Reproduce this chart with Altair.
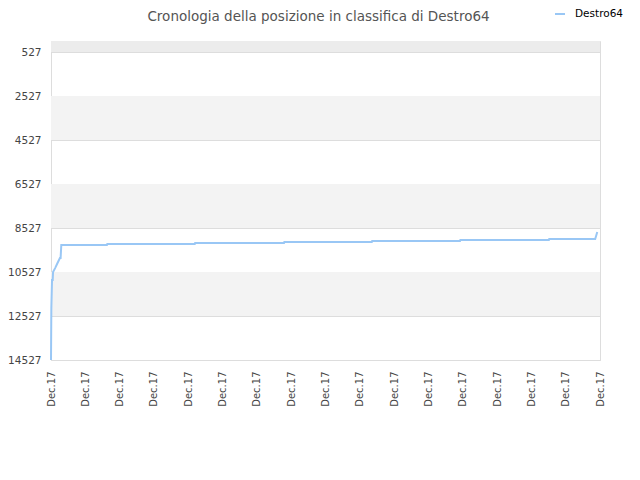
import altair as alt
import pandas as pd

# Data (x in "day" units, 16 label intervals)
line_x = [0, 0.01, 0.03, 0.05, 0.06, 0.12, 0.18, 0.26, 0.28, 0.30, 1.63, 1.64, 4.19, 4.20,
          6.79, 6.80, 9.35, 9.36, 11.92, 11.93, 14.51, 14.52, 15.86, 15.92]
line_y = [14527, 12163, 10891, 10891, 10527, 10350, 10150, 9890, 9890, 9300, 9300, 9255, 9255, 9209,
          9209, 9164, 9164, 9118, 9118, 9073, 9073, 9027, 9027, 8709]
series_name = "Destro64"

y_ticks = [527, 2527, 4527, 6527, 8527, 10527, 12527, 14527]
x_ticks = list(range(17))
x_label = "Dec.17"

band_start = [27, 2527, 6527, 10527]
band_end = [527, 4527, 8527, 12527]
band_kind = ["top", "alt", "alt", "alt"]

df_line = pd.DataFrame({"x": line_x, "y": line_y, "s": [series_name] * len(line_x)})
df_band = pd.DataFrame({"y": band_start, "y2": band_end, "k": band_kind})

yscale = alt.Scale(domain=[27, 14527], reverse=True, nice=False, zero=False)
xscale = alt.Scale(domain=[0, 16], nice=False, zero=False)

bands = alt.Chart(df_band).mark_rect().encode(
    x=alt.value(0),
    x2=alt.value(549),
    y=alt.Y("y:Q", scale=yscale),
    y2="y2:Q",
    fill=alt.Fill("k:N", scale=alt.Scale(domain=["top", "alt"], range=["#ececec", "#f3f3f3"]), legend=None),
)

line = alt.Chart(df_line).mark_line(strokeWidth=2).encode(
    x=alt.X("x:Q", scale=xscale,
            axis=alt.Axis(values=x_ticks, labelExpr=f"'{x_label}'", labelAngle=-90, title=None,
                          grid=False, ticks=False, domain=True, domainColor="#dddddd",
                          labelColor="#444444", labelFontSize=10, labelFont="DejaVu Sans",
                          labelPadding=11, labelAlign="right", labelBaseline="middle")),
    y=alt.Y("y:Q", scale=yscale,
            axis=alt.Axis(values=y_ticks, format="d", title=None, grid=True, gridColor="#dddddd",
                          ticks=False, domain=False, labelColor="#444444", labelFontSize=10.5,
                          labelFont="DejaVu Sans", labelPadding=10)),
    stroke=alt.Stroke("s:N", scale=alt.Scale(range=["#99c7f5"]),
                      legend=alt.Legend(orient="none", legendX=503, legendY=-33, title=None,
                                        symbolType="stroke", symbolStrokeWidth=2, symbolSize=100,
                                        labelOffset=9,
                                        labelFont="DejaVu Sans", labelFontSize=10.5,
                                        labelColor="#000000")),
)

chart = alt.layer(bands, line).resolve_scale(fill="independent", stroke="independent").properties(
    width=549,
    height=319,
    autosize=alt.AutoSizeParams(type="none"),
    padding={"left": 43, "top": 33, "right": 32, "bottom": 112},
    title=alt.TitleParams("Cronologia della posizione in classifica di Destro64", anchor="middle",
                          dx=-7, offset=-15, fontSize=13.5, font="DejaVu Sans", fontWeight="normal",
                          color="#555555"),
).configure_view(stroke="#dddddd")

chart.save("out.html", embed_options={"renderer": "svg", "actions": False})
